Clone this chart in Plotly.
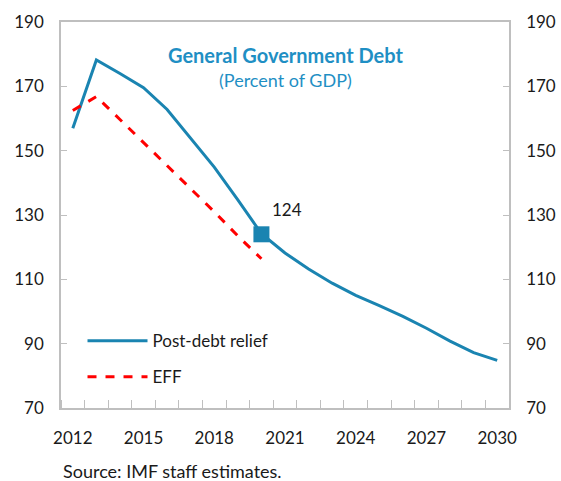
import plotly.graph_objects as go

years = list(range(2012, 2031))
post_debt_relief = [157.0, 178.2, 174.0, 169.6, 162.8, 153.8, 144.9, 134.7, 124.2,
                    118.2, 113.2, 108.8, 105.0, 101.8, 98.5, 94.8, 90.8, 87.2, 84.8]
eff_years = list(range(2012, 2021))
eff = [162.5, 166.8, 159.7, 152.6, 145.4, 138.2, 131.0, 123.5, 116.4]
highlight_year = 2020
highlight_value = 124

x_tick_vals = [2012, 2015, 2018, 2021, 2024, 2027, 2030]
y_tick_vals = [70, 90, 110, 130, 150, 170, 190]

BLUE = "#1a84b1"
TITLE_BLUE = "#1f8fc4"
RED = "#ff0000"
AXIS = "#bfbfbf"
FONT = "Lato"
TXT = "#1a1a1a"

fig = go.Figure()
fig.add_trace(go.Scatter(x=years, y=post_debt_relief, mode="lines", name="Post-debt relief",
                         legendgroup="a", line=dict(color=BLUE, width=3)))
fig.add_trace(go.Scatter(x=eff_years, y=eff, mode="lines", name="EFF",
                         legendgroup="b", line=dict(color=RED, width=3, dash="dash")))
fig.add_trace(go.Scatter(x=[highlight_year], y=[highlight_value], mode="markers",
                         showlegend=False, hoverinfo="skip",
                         marker=dict(symbol="square", size=16, color=BLUE)))
# empty trace so that the mirrored right-hand axis is rendered
fig.add_trace(go.Scatter(x=[None], y=[None], yaxis="y2", showlegend=False,
                         hoverinfo="skip", mode="lines"))

fig.add_annotation(x=highlight_year, y=highlight_value, text=str(highlight_value),
                   showarrow=False, xshift=26, yshift=25,
                   font=dict(family=FONT, size=17, color=TXT))
fig.add_annotation(x=0.5, y=0.951, xref="paper", yref="paper",
                   text="<b>General Government Debt</b>", showarrow=False,
                   font=dict(family=FONT, size=20, color=TITLE_BLUE))
fig.add_annotation(x=0.5, y=0.884, xref="paper", yref="paper",
                   text="(Percent of GDP)", showarrow=False,
                   font=dict(family=FONT, size=18, color=TITLE_BLUE))
fig.add_annotation(x=0, y=-0.162, xref="paper", yref="paper", xanchor="left",
                   yanchor="middle", text="Source: IMF staff estimates.", showarrow=False,
                   font=dict(family=FONT, size=18, color=TXT))

fig.update_layout(
    width=561, height=481,
    margin=dict(l=61, r=52, t=22, b=73),
    paper_bgcolor="white", plot_bgcolor="white",
    font=dict(family=FONT, size=17, color=TXT),
    showlegend=True,
    legend=dict(x=0.048, y=0.22, xanchor="left", yanchor="top",
                bgcolor="rgba(0,0,0,0)", font=dict(family=FONT, size=17, color=TXT),
                tracegroupgap=11, itemwidth=60),
    xaxis=dict(range=[2011.5, 2030.5], tickmode="array", tickvals=x_tick_vals,
               ticks="", showgrid=False, zeroline=False, automargin=False,
               showline=True, linecolor=AXIS, linewidth=1.5, mirror=True,
               ticklabelstandoff=14,
               minor=dict(tickmode="linear", tick0=2011.5, dtick=1, ticks="inside",
                          ticklen=8, tickcolor=AXIS, tickwidth=1, showgrid=False)),
    yaxis=dict(range=[70, 190], tickmode="array", tickvals=y_tick_vals, automargin=False,
               ticks="inside", ticklen=6, tickcolor=AXIS, showgrid=False, zeroline=False,
               showline=True, linecolor=AXIS, linewidth=1.5, ticklabelstandoff=12),
    yaxis2=dict(range=[70, 190], tickmode="array", tickvals=y_tick_vals, automargin=False,
                overlaying="y", side="right", anchor="x",
                ticks="inside", ticklen=6, tickcolor=AXIS, showgrid=False, zeroline=False,
                showline=True, linecolor=AXIS, linewidth=1.5, ticklabelstandoff=12),
)

fig.write_html("out.html", config={"displayModeBar": False},
               post_script="document.body.style.margin='0';"
                           "document.body.style.overflow='hidden';")
